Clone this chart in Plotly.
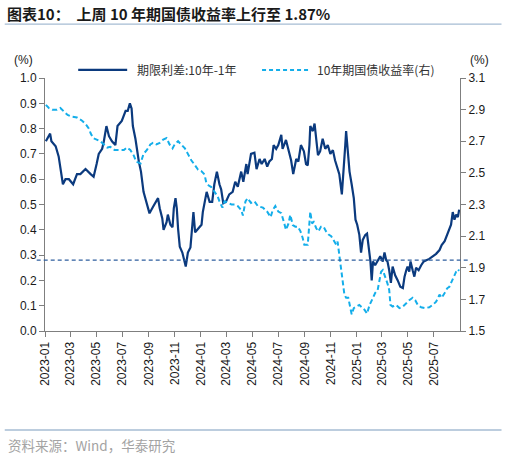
import plotly.graph_objects as go

# 期限利差:10年-1年 (左轴, %)
spread_dates = [
    "2023-01-03", "2023-01-13", "2023-01-16", "2023-01-26", "2023-02-02", "2023-02-08",
    "2023-02-12", "2023-02-18", "2023-02-26", "2023-03-08", "2023-03-17", "2023-03-25",
    "2023-04-06", "2023-04-18", "2023-04-25", "2023-05-02", "2023-05-07", "2023-05-15",
    "2023-05-19", "2023-05-25", "2023-05-31", "2023-06-07", "2023-06-15", "2023-06-20",
    "2023-06-30", "2023-07-09", "2023-07-14", "2023-07-19", "2023-07-23", "2023-07-26",
    "2023-08-01", "2023-08-09", "2023-08-14", "2023-08-20", "2023-08-27", "2023-09-03",
    "2023-09-11", "2023-09-23", "2023-09-27", "2023-10-03", "2023-10-06", "2023-10-13",
    "2023-10-16", "2023-10-22", "2023-10-27", "2023-10-30", "2023-11-03", "2023-11-06",
    "2023-11-09", "2023-11-13", "2023-11-19", "2023-11-23", "2023-11-27", "2023-12-02",
    "2023-12-08", "2023-12-12", "2023-12-15", "2023-12-19", "2023-12-26", "2024-01-03",
    "2024-01-06", "2024-01-10", "2024-01-15", "2024-01-22", "2024-01-28", "2024-02-02",
    "2024-02-08", "2024-02-14", "2024-02-18", "2024-02-23", "2024-02-29", "2024-03-08",
    "2024-03-16", "2024-03-22", "2024-03-28", "2024-04-05", "2024-04-10", "2024-04-17",
    "2024-04-20", "2024-04-28", "2024-05-06", "2024-05-11", "2024-05-18", "2024-05-23",
    "2024-05-30", "2024-06-05", "2024-06-10", "2024-06-16", "2024-06-20", "2024-06-26",
    "2024-07-01", "2024-07-08", "2024-07-11", "2024-07-19", "2024-07-25", "2024-07-31",
    "2024-08-05", "2024-08-12", "2024-08-17", "2024-08-23", "2024-08-30", "2024-09-04",
    "2024-09-08", "2024-09-12", "2024-09-14", "2024-09-20", "2024-09-24", "2024-09-28",
    "2024-10-02", "2024-10-07", "2024-10-13", "2024-10-19", "2024-10-25", "2024-10-31",
    "2024-11-06", "2024-11-11", "2024-11-17", "2024-11-21", "2024-11-27", "2024-12-01",
    "2024-12-05", "2024-12-07", "2024-12-11", "2024-12-15", "2024-12-20", "2024-12-25",
    "2024-12-29", "2025-01-02", "2025-01-07", "2025-01-11", "2025-01-15", "2025-01-21",
    "2025-01-25", "2025-01-28", "2025-02-02", "2025-02-05", "2025-02-08", "2025-02-13",
    "2025-02-19", "2025-02-25", "2025-03-03", "2025-03-07", "2025-03-11", "2025-03-14",
    "2025-03-18", "2025-03-22", "2025-03-26", "2025-04-01", "2025-04-07", "2025-04-13",
    "2025-04-19", "2025-04-23", "2025-04-27", "2025-04-30", "2025-05-04", "2025-05-07",
    "2025-05-12", "2025-05-16", "2025-05-20", "2025-05-26", "2025-06-01", "2025-06-07",
    "2025-06-13", "2025-06-20", "2025-06-28", "2025-07-06", "2025-07-14", "2025-07-19",
    "2025-07-26", "2025-08-01", "2025-08-06", "2025-08-10", "2025-08-14", "2025-08-18",
    "2025-08-22", "2025-08-26", "2025-08-29",
]
spread_values = [
    0.75, 0.78, 0.75, 0.73, 0.69, 0.62,
    0.58, 0.60, 0.60, 0.58, 0.62, 0.62,
    0.64, 0.62, 0.61, 0.66, 0.70, 0.72,
    0.75, 0.81, 0.77, 0.75, 0.735, 0.81,
    0.83, 0.87, 0.87, 0.90, 0.88, 0.81,
    0.76, 0.67, 0.63, 0.55, 0.51, 0.465,
    0.49, 0.525, 0.485, 0.445, 0.40, 0.43,
    0.46, 0.42, 0.41, 0.485, 0.525, 0.485,
    0.405, 0.333, 0.31, 0.28, 0.255, 0.31,
    0.33, 0.41, 0.47, 0.39, 0.405, 0.42,
    0.47, 0.51, 0.55, 0.51, 0.51, 0.58,
    0.63, 0.58, 0.56, 0.505, 0.51, 0.54,
    0.55, 0.59, 0.57, 0.63, 0.59, 0.66,
    0.62, 0.70, 0.705, 0.64, 0.68, 0.66,
    0.68, 0.65, 0.67, 0.68, 0.735, 0.72,
    0.735, 0.775, 0.72, 0.755, 0.72, 0.675,
    0.62, 0.68, 0.67, 0.735, 0.71, 0.66,
    0.655, 0.735, 0.81, 0.79, 0.82, 0.75,
    0.695, 0.71, 0.76, 0.72, 0.735, 0.70,
    0.715, 0.675, 0.645, 0.62, 0.54, 0.62,
    0.735, 0.79, 0.71, 0.63, 0.58, 0.525,
    0.44, 0.42, 0.38, 0.31, 0.36, 0.38,
    0.385, 0.345, 0.275, 0.20, 0.275, 0.26,
    0.28, 0.295, 0.275, 0.31, 0.28, 0.275,
    0.24, 0.19, 0.255, 0.22, 0.20, 0.175,
    0.17, 0.215, 0.24, 0.255, 0.235, 0.275,
    0.24, 0.215, 0.25, 0.24, 0.26, 0.275,
    0.28, 0.285, 0.295, 0.305, 0.32, 0.34,
    0.355, 0.38, 0.405, 0.42, 0.47, 0.44,
    0.46, 0.45, 0.48,
]

# 10年期国债收益率 (右轴, %)
yield_dates = [
    "2023-01-03", "2023-01-10", "2023-01-18", "2023-01-29", "2023-02-06", "2023-02-14",
    "2023-02-23", "2023-03-05", "2023-03-17", "2023-03-29", "2023-04-06", "2023-04-14",
    "2023-04-18", "2023-04-24", "2023-05-03", "2023-05-11", "2023-05-19", "2023-05-27",
    "2023-06-03", "2023-06-13", "2023-06-23", "2023-07-05", "2023-07-12", "2023-07-20",
    "2023-07-28", "2023-08-03", "2023-08-13", "2023-08-20", "2023-08-28", "2023-09-05",
    "2023-09-11", "2023-09-19", "2023-09-27", "2023-10-05", "2023-10-13", "2023-10-20",
    "2023-10-27", "2023-11-01", "2023-11-09", "2023-11-17", "2023-11-25", "2023-12-02",
    "2023-12-10", "2023-12-18", "2023-12-26", "2024-01-03", "2024-01-10", "2024-01-14",
    "2024-01-20", "2024-01-26", "2024-02-03", "2024-02-10", "2024-02-14", "2024-02-21",
    "2024-02-26", "2024-03-05", "2024-03-13", "2024-03-21", "2024-03-28", "2024-04-05",
    "2024-04-09", "2024-04-15", "2024-04-20", "2024-04-28", "2024-05-06", "2024-05-14",
    "2024-05-26", "2024-06-05", "2024-06-13", "2024-06-18", "2024-06-24", "2024-07-01",
    "2024-07-08", "2024-07-14", "2024-07-19", "2024-07-25", "2024-07-29", "2024-08-04",
    "2024-08-10", "2024-08-16", "2024-08-22", "2024-08-27", "2024-08-31", "2024-09-08",
    "2024-09-12", "2024-09-14", "2024-09-18", "2024-09-22", "2024-09-28", "2024-10-03",
    "2024-10-09", "2024-10-15", "2024-10-21", "2024-10-27", "2024-11-02", "2024-11-08",
    "2024-11-14", "2024-11-17", "2024-11-21", "2024-11-25", "2024-11-29", "2024-12-03",
    "2024-12-07", "2024-12-12", "2024-12-17", "2024-12-20", "2024-12-25", "2024-12-31",
    "2025-01-07", "2025-01-15", "2025-01-19", "2025-01-25", "2025-01-31", "2025-02-08",
    "2025-02-13", "2025-02-19", "2025-02-23", "2025-02-27", "2025-03-03", "2025-03-07",
    "2025-03-11", "2025-03-14", "2025-03-18", "2025-03-21", "2025-03-26", "2025-04-03",
    "2025-04-11", "2025-04-19", "2025-04-27", "2025-05-04", "2025-05-12", "2025-05-18",
    "2025-05-24", "2025-06-01", "2025-06-10", "2025-06-20", "2025-06-28", "2025-07-06",
    "2025-07-14", "2025-07-19", "2025-07-26", "2025-08-01", "2025-08-06", "2025-08-11",
    "2025-08-16", "2025-08-22", "2025-08-26", "2025-08-29",
]
yield_values = [
    2.93, 2.91, 2.90, 2.90, 2.91, 2.89,
    2.866, 2.855, 2.85, 2.83, 2.81, 2.78,
    2.75, 2.72, 2.71, 2.70, 2.68, 2.66,
    2.665, 2.645, 2.645, 2.645, 2.66, 2.645,
    2.61, 2.57, 2.56, 2.62, 2.645, 2.68,
    2.69, 2.68, 2.69, 2.71, 2.72, 2.68,
    2.655, 2.68, 2.70, 2.68, 2.655, 2.62,
    2.58, 2.55, 2.52, 2.51, 2.49, 2.44,
    2.42, 2.41, 2.38, 2.35, 2.32, 2.28,
    2.32, 2.31, 2.30, 2.30, 2.29, 2.265,
    2.23, 2.32, 2.34, 2.31, 2.32, 2.29,
    2.28, 2.255, 2.22, 2.265, 2.29, 2.255,
    2.245, 2.19, 2.14, 2.18, 2.235, 2.17,
    2.16, 2.16, 2.13, 2.09, 2.045, 2.045,
    2.19, 2.255, 2.18, 2.19, 2.15, 2.13,
    2.16, 2.16, 2.13, 2.11, 2.10, 2.075,
    2.045, 2.065, 1.98, 1.92, 1.81, 1.73,
    1.71, 1.71, 1.645, 1.605, 1.645, 1.655,
    1.665, 1.645, 1.635, 1.61, 1.665, 1.71,
    1.74, 1.76, 1.81, 1.875, 1.885, 1.855,
    1.835, 1.80, 1.76, 1.665, 1.655, 1.665,
    1.645, 1.655, 1.675, 1.695, 1.71, 1.695,
    1.665, 1.65, 1.645, 1.65, 1.665, 1.685,
    1.73, 1.71, 1.74, 1.77, 1.78, 1.81,
    1.845, 1.875, 1.89, 1.88,
]

ref_level = 0.28  # 参考虚线 (左轴)

x_ticks = ["2023-01-01", "2023-03-01", "2023-05-01", "2023-07-01", "2023-09-01",
           "2023-11-01", "2024-01-01", "2024-03-01", "2024-05-01", "2024-07-01",
           "2024-09-01", "2024-11-01", "2025-01-01", "2025-03-01", "2025-05-01",
           "2025-07-01"]

series_names = ["期限利差:10年-1年", "10年期国债收益率(右)"]

navy = "#0B3A7E"
sky = "#14AEEA"
axis_grey = "#7F7F7F"
font_main = "Liberation Sans, Arial, sans-serif"
font_cjk = "Noto Sans CJK SC, sans-serif"

fig = go.Figure()
fig.add_trace(go.Scatter(
    x=spread_dates, y=spread_values, name=series_names[0],
    mode="lines", line=dict(color=navy, width=2.2),
))
fig.add_trace(go.Scatter(
    x=yield_dates, y=yield_values, name=series_names[1], yaxis="y2",
    mode="lines", line=dict(color=sky, width=2, dash="5px,3px"),
))

# horizontal reference line
fig.add_shape(type="line", xref="paper", yref="y", x0=-0.02, x1=1.025,
              y0=ref_level, y1=ref_level,
              line=dict(color="#2E5E9E", width=1.2, dash="4px,3px"))

# legend drawn by hand (long line keys like the original)
leg_y = 1.032
fig.add_shape(type="line", xref="paper", yref="paper", x0=0.080, x1=0.198,
              y0=leg_y, y1=leg_y, line=dict(color=navy, width=2.2))
fig.add_annotation(text=series_names[0], xref="paper", yref="paper", x=0.218, y=leg_y,
                   xanchor="left", yanchor="middle", showarrow=False,
                   font=dict(family=font_cjk, size=12, color="#333333"))
fig.add_shape(type="line", xref="paper", yref="paper", x0=0.523, x1=0.639,
              y0=leg_y, y1=leg_y, line=dict(color=sky, width=2, dash="4px,3px"))
fig.add_annotation(text=series_names[1], xref="paper", yref="paper", x=0.650, y=leg_y,
                   xanchor="left", yanchor="middle", showarrow=False,
                   font=dict(family=font_cjk, size=12, color="#333333"))

# title and separators
fig.add_annotation(text="<b>图表10：  上周 10 年期国债收益率上行至 1.87%</b>",
                   xref="paper", yref="paper", x=-0.097, y=1.253,
                   xanchor="left", yanchor="middle", showarrow=False,
                   font=dict(family=font_cjk, size=15, color="#1a1a1a"))
fig.add_shape(type="line", xref="paper", yref="paper", x0=-0.097, x1=1.1,
              y0=1.213, y1=1.213, line=dict(color="#A6BCD3", width=1.2))
fig.add_shape(type="line", xref="paper", yref="paper", x0=-0.097, x1=1.1,
              y0=-0.391, y1=-0.391, line=dict(color="#A6BCD3", width=1.5))
fig.add_annotation(text="资料来源：Wind，华泰研究",
                   xref="paper", yref="paper", x=-0.093, y=-0.451,
                   xanchor="left", yanchor="middle", showarrow=False,
                   font=dict(family=font_cjk, size=13.5, color="#A3A3A3"))

# unit labels
fig.add_annotation(text="(%)", xref="paper", yref="paper", x=-0.053, y=1.071,
                   xanchor="center", yanchor="middle", showarrow=False,
                   font=dict(family=font_main, size=12, color="#1a1a1a"))
fig.add_annotation(text="(%)", xref="paper", yref="paper", x=1.048, y=1.071,
                   xanchor="center", yanchor="middle", showarrow=False,
                   font=dict(family=font_main, size=12, color="#1a1a1a"))

fig.update_layout(
    width=506, height=455,
    margin=dict(l=45, r=46, t=78, b=124),
    paper_bgcolor="white", plot_bgcolor="white",
    font=dict(family=font_main, size=12, color="#1a1a1a"),
    showlegend=False,
    xaxis=dict(
        type="date", range=["2023-01-01", "2025-08-31"],
        tickvals=x_ticks, tickformat="%Y-%m", tickangle=-90,
        showgrid=False, zeroline=False,
        showline=True, linecolor=axis_grey, linewidth=1,
        ticks="outside", ticklen=5, tickcolor=axis_grey,
    ),
    yaxis=dict(
        range=[0, 1.0], tick0=0, dtick=0.1, tickformat=".1f",
        showgrid=False, zeroline=False,
        showline=True, linecolor=axis_grey, linewidth=1,
        ticks="outside", ticklen=5, tickcolor=axis_grey,
    ),
    yaxis2=dict(
        range=[1.5, 3.1], tick0=1.5, dtick=0.2, tickformat=".1f",
        overlaying="y", side="right",
        showgrid=False, zeroline=False,
        showline=True, linecolor=axis_grey, linewidth=1,
        ticks="outside", ticklen=5, tickcolor=axis_grey,
    ),
)

# the page's default 8px body margin would push the chart off the window
fig.write_html("out.html", config={"displayModeBar": False},
               post_script="document.body.style.margin='0';")
